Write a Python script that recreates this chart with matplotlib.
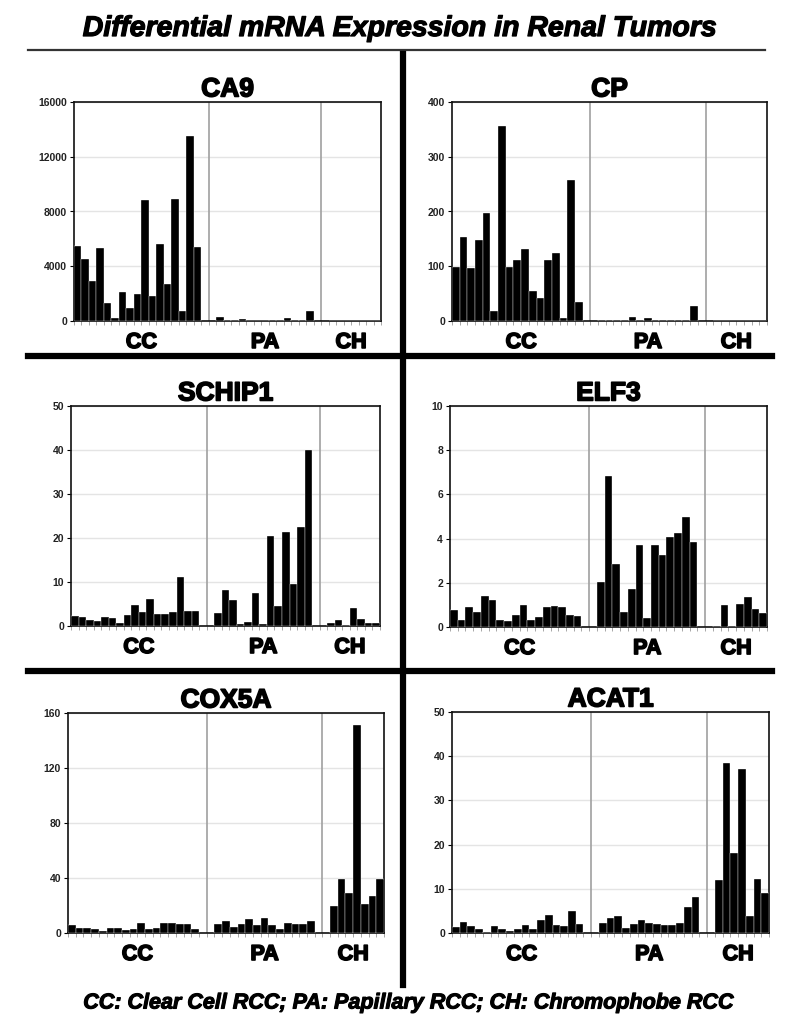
import matplotlib
matplotlib.use('Agg')
import matplotlib.pyplot as plt
from matplotlib.lines import Line2D
from matplotlib import patheffects as pe
import numpy as np

plt.rcParams['font.family'] = ['Liberation Sans', 'DejaVu Sans']

W, H = 800, 1027

# values: CC (17 tumours), PA (13), CH (7)
ca9_cc = [5500, 4550, 2950, 5300, 1300, 250, 2150, 950, 1950, 8850, 1800, 5600, 2700, 8900, 700, 13500, 5400]
ca9_pa = [280, 50, 60, 120, 30, 20, 30, 60, 30, 250, 60, 60, 750]
ca9_ch = [20, 20, 20, 20, 20, 20, 20]

cp_cc = [98, 154, 96, 148, 198, 18, 357, 98, 111, 132, 55, 42, 111, 125, 5, 257, 35]
cp_pa = [1, 1, 1, 2, 8, 2, 5, 1, 2, 2, 2, 1, 28]
cp_ch = [0.5, 0.5, 0.5, 0.5, 0.5, 0.5, 0.5]

schip1_cc = [2.3, 2.0, 1.4, 1.1, 2.0, 1.9, 0.7, 2.6, 4.8, 3.1, 6.2, 2.7, 2.7, 3.1, 11.2, 3.5, 3.5]
schip1_pa = [2.9, 8.2, 5.8, 0.5, 0.8, 7.6, 0.5, 20.5, 4.6, 21.3, 9.5, 22.6, 40.0]
schip1_ch = [0.7, 1.3, 0.3, 4.0, 1.7, 0.6, 0.6]

elf3_cc = [0.75, 0.3, 0.9, 0.7, 1.4, 1.2, 0.3, 0.25, 0.55, 1.0, 0.3, 0.45, 0.9, 0.95, 0.9, 0.55, 0.5]
elf3_pa = [2.05, 6.85, 2.85, 0.7, 1.7, 3.7, 0.4, 3.7, 3.25, 4.05, 4.25, 5.0, 3.85]
elf3_ch = [0.05, 1.0, 0.05, 1.05, 1.35, 0.8, 0.65]

cox5a_cc = [6, 4, 4, 3, 1.5, 4, 4, 2, 3, 7.5, 3, 4, 7, 7, 6.5, 6.5, 3]
cox5a_pa = [6.5, 9, 4.5, 6.5, 10, 6, 11, 6, 3, 7, 6.5, 6.5, 9]
cox5a_ch = [20, 39.5, 29, 151, 21, 27, 39.5]

acat1_cc = [1.3, 2.6, 1.6, 1.0, 0.3, 1.5, 0.8, 0.5, 1.0, 1.8, 1.0, 3.0, 4.0, 1.8, 1.5, 5.0, 2.0]
acat1_pa = [2.2, 3.3, 3.8, 1.2, 2.0, 3.0, 2.3, 2.0, 1.7, 1.7, 2.2, 5.8, 8.1]
acat1_ch = [12.0, 38.5, 18.0, 37.2, 3.8, 12.2, 9.0]

genes = ['CA9', 'CP', 'SCHIP1', 'ELF3', 'COX5A', 'ACAT1']
groups = ['CC', 'PA', 'CH']
ymax = [16000, 400, 50, 10, 160, 50]
ysteps = [4000, 100, 10, 2, 40, 10]
data = [(ca9_cc, ca9_pa, ca9_ch), (cp_cc, cp_pa, cp_ch), (schip1_cc, schip1_pa, schip1_ch),
        (elf3_cc, elf3_pa, elf3_ch), (cox5a_cc, cox5a_pa, cox5a_ch), (acat1_cc, acat1_pa, acat1_ch)]

# axes boxes in pixels: left, right, top, bottom
boxes = [(74, 381, 102, 321), (452, 767, 102, 321),
         (71, 380, 406, 626), (450, 767, 406, 627),
         (68, 384, 713, 933), (452, 769, 712, 933)]

heavy = [pe.withStroke(linewidth=1.2, foreground='black')]

fig = plt.figure(figsize=(W / 100, H / 100), dpi=100)
fig.patch.set_facecolor('white')


def rect(l, r, t, b):
    return [l / W, 1 - b / H, (r - l) / W, (b - t) / H]


for k in range(6):
    l, r, t, b = boxes[k]
    ax = fig.add_axes(rect(l, r, t, b))
    cc, pa, ch = data[k]
    n_cc, n_pa, n_ch = len(cc), len(pa), len(ch)
    x_cc = np.arange(n_cc)
    x_pa = np.arange(n_pa) + n_cc + 2
    x_ch = np.arange(n_ch) + n_cc + n_pa + 4
    for xs, vals in ((x_cc, cc), (x_pa, pa), (x_ch, ch)):
        ax.bar(xs, vals, width=1.0, color='black', edgecolor='white', linewidth=0.25, zorder=3)
    n_tot = n_cc + n_pa + n_ch + 4
    sep1 = n_cc + 0.5
    sep2 = n_cc + n_pa + 2.5
    ax.axvline(sep1, color='#a0a0a0', lw=1.2, zorder=2)
    ax.axvline(sep2, color='#a0a0a0', lw=1.2, zorder=2)
    ax.set_xlim(-0.5, n_tot - 0.5)
    ax.set_ylim(0, ymax[k])
    ax.set_yticks(np.arange(0, ymax[k] + 1, ysteps[k]))
    ax.yaxis.grid(True, color='#e4e4e4', lw=1.0, zorder=0)
    ax.set_axisbelow(True)
    ax.set_xticks(np.arange(-0.5, n_tot, 1.0))
    ax.set_xticklabels([])
    ax.tick_params(axis='x', direction='out', length=3, width=0.6, color='#999999')
    ax.tick_params(axis='y', direction='out', length=3, width=0.8, labelsize=7.5, pad=2)
    for lab in ax.get_yticklabels():
        lab.set_fontweight('bold')
        lab.set_color('#222222')
    for sp in ax.spines.values():
        sp.set_linewidth(1.2)
        sp.set_color('#111111')
    ttl = ax.set_title(genes[k], fontsize=19, fontweight='bold', pad=4)
    ttl.set_path_effects(heavy)
    centers = [(-0.5 + sep1) / 2, (sep1 + sep2) / 2, (sep2 + n_tot - 0.5) / 2]
    for c, g in zip(centers, groups):
        ax.text(c, -0.05, g, transform=ax.get_xaxis_transform(), ha='center', va='top',
                fontsize=15.5, fontweight='bold', path_effects=heavy)

# main title and underline
fig.text(0.5, 1 - 29 / H, 'Differential mRNA Expression in Renal Tumors', ha='center', va='center',
         fontsize=20.5, fontweight='bold', style='italic',
         path_effects=[pe.withStroke(linewidth=0.9, foreground='black')])
fig.add_artist(Line2D([28 / W, 765 / W], [1 - 50 / H, 1 - 50 / H], color='#333333', lw=1.6))

# thick dividers between panels
fig.add_artist(Line2D([403 / W, 403 / W], [1 - 54 / H, 1 - 985 / H], color='black', lw=4.5))
for yy in (356, 671):
    fig.add_artist(Line2D([28 / W, 772 / W], [1 - yy / H, 1 - yy / H], color='black', lw=4.5))

fig.text(0.51, 1 - 1003 / H, 'CC: Clear Cell RCC; PA: Papillary RCC; CH: Chromophobe RCC',
         ha='center', va='center', fontsize=15.5, fontweight='bold', style='italic',
         path_effects=[pe.withStroke(linewidth=0.8, foreground='black')])

fig.savefig('out.png', dpi=100, facecolor='white')
